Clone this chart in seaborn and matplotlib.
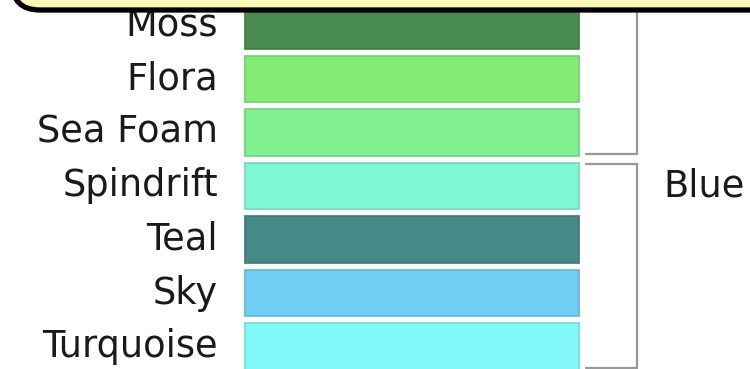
import matplotlib
matplotlib.use("Agg")
import matplotlib.pyplot as plt
import matplotlib.colors as mcolors
from matplotlib.patches import FancyBboxPatch
from matplotlib.transforms import IdentityTransform
import seaborn as sns
import numpy as np

names = ["Moss", "Flora", "Sea Foam", "Spindrift", "Teal", "Sky", "Turquoise"]
values = [1, 1, 1, 1, 1, 1, 1]
colors = ["#4a8c50", "#82ec76", "#80f090", "#80f7d4", "#468a88", "#70cef5", "#80f8f8"]
groups = ["Green", "Green", "Green", "Blue", "Blue", "Blue", "Blue"]

sns.set_style("white")
plt.rcParams['font.family'] = ['DejaVu Sans']

fig = plt.figure(figsize=(7.5, 3.69), dpi=100)
ax = fig.add_axes([0, 0, 1, 1])

sns.barplot(x=values, y=names, hue=names, palette=colors, orient='h',
            width=0.86, saturation=1, legend=False, ax=ax)

for p, c in zip(ax.patches, colors):
    rgb = np.array(mcolors.to_rgb(c)) * 0.88
    p.set_edgecolor(rgb)
    p.set_linewidth(1.2)

# pixel mapping: bars from x=245 to 579, rows every 53.5px starting at 25.5
ax.set_xlim(-245 / 334, (750 - 245) / 334)
ax.set_ylim((369 - 25.5) / 53.5, -25.5 / 53.5)
ax.set_axis_off()

for i, n in enumerate(names):
    ax.text(-27 / 334, i, n, ha='right', va='center', fontsize=26.5, color='#1a1a1a')

# brackets for groups; the top group's label sits above the visible area
bx0, bx1 = (586 - 245) / 334, (637 - 245) / 334
for g in dict.fromkeys(groups):
    idx = [i for i, gg in enumerate(groups) if gg == g]
    top, bot = idx[0] - 0.41, idx[-1] + 0.41
    if idx[0] == 0:
        ax.plot([bx1, bx1, bx0], [-2, bot, bot], color='#999999', lw=1.6,
                solid_joinstyle='miter')
        continue
    ax.plot([bx0, bx1, bx1, bx0], [top, top, bot, bot], color='#999999', lw=1.6,
            solid_joinstyle='miter')
    ax.text((663 - 245) / 334, idx[0], g, ha='left', va='center', fontsize=26.5,
            color='#1a1a1a')

box = FancyBboxPatch((12, 369 - 10), 900, 120, boxstyle="round,pad=0,rounding_size=28",
                     transform=IdentityTransform(), facecolor='#fff8b8',
                     edgecolor='black', linewidth=3.8, clip_on=False, zorder=10)
fig.add_artist(box)

fig.savefig("out.png", dpi=100, facecolor='white')
